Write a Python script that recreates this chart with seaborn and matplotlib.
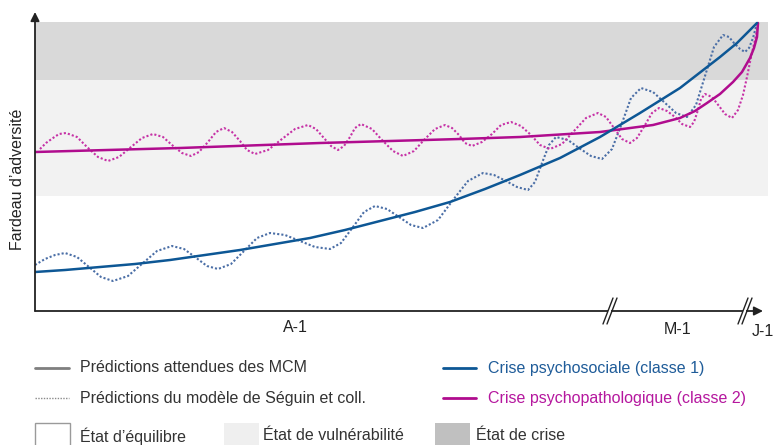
import matplotlib
matplotlib.use("Agg")
import matplotlib.pyplot as plt
from matplotlib.lines import Line2D
from matplotlib.patches import Rectangle
import seaborn as sns

# Time runs from the start of the year before the crisis (0) to the crisis day (722);
# adversity burden is in arbitrary units.
equilibrium_max = 115
vulnerability_max = 231
crisis_max = 289

# Expected trajectories from the mixture models (MCM)
t_psychosocial = [0, 30, 65, 100, 135, 170, 205, 240, 275, 310, 345, 380, 415, 450, 485,
                  525, 565, 605, 645, 685, 702, 722]
b_psychosocial = [39, 41, 44, 47, 51, 56, 61, 67, 73, 81, 90, 99, 109, 122, 136,
                  153, 174, 198, 223, 254, 268, 288]

t_psychopatho = [0, 145, 285, 425, 485, 565, 618, 645, 660, 672, 685, 698, 707, 715, 719,
                 722, 723]
b_psychopatho = [159, 163, 168, 172, 174, 179, 186, 193, 200, 208, 217, 229, 239, 253, 263,
                 274, 288]

# Fluctuating trajectories predicted by the Séguin et al. model
t_seguin_psychosocial = [0, 10, 20, 30, 42, 54, 66, 78, 93, 108, 122, 137, 149, 160, 172, 183,
                         196, 209, 222, 235, 250, 265, 280, 295, 306, 318, 329, 340, 352, 364,
                         376, 388, 403, 418, 433, 448, 459, 471, 482, 493, 500, 507, 514, 521,
                         533, 544, 556, 567, 577, 587, 596, 606, 618, 629, 641, 652, 661, 670,
                         679, 688, 694, 699, 705, 710, 714, 718, 722]
b_seguin_psychosocial = [46, 52, 56, 58, 54, 44, 34, 30, 35, 48, 60, 65, 62, 54, 45, 42,
                         47, 60, 73, 78, 76, 70, 64, 62, 68, 84, 99, 105, 102, 94,
                         86, 83, 91, 111, 130, 138, 136, 130, 124, 121, 129, 148, 166, 174,
                         171, 163, 155, 152, 162, 188, 213, 223, 219, 209, 198, 194, 206, 235,
                         264, 276, 274, 268, 262, 259, 263, 273, 288]

t_seguin_psychopatho = [5, 11, 18, 24, 31, 42, 52, 63, 73, 84, 96, 107, 118, 128, 137, 147, 156,
                        164, 173, 181, 189, 197, 205, 212, 220, 233, 247, 260, 273, 281, 288, 296,
                        303, 309, 315, 320, 326, 337, 347, 358, 368, 379, 389, 400, 410, 417, 424,
                        430, 437, 447, 457, 466, 476, 486, 496, 505, 515, 527, 539, 551, 563, 571,
                        579, 587, 595, 602, 610, 617, 624, 632, 640, 647, 655, 659, 663, 666, 670,
                        677, 684, 690, 697, 703, 708, 712, 716, 720, 722, 723]
b_seguin_psychopatho = [162, 168, 173, 177, 178, 174, 164, 154, 150, 154, 164, 173, 177, 174, 166, 158, 155,
                        159, 169, 179, 183, 179, 170, 161, 157, 161, 172, 182, 186, 182, 174, 165,
                        161, 165, 174, 183, 187, 182, 171, 160, 155, 160, 171, 182, 186, 183, 176,
                        168, 165, 169, 177, 186, 189, 185, 176, 166, 162, 167, 180, 193, 198, 194,
                        183, 172, 168, 173, 186, 198, 203, 200, 194, 187, 184, 189, 201, 212, 217,
                        214, 205, 197, 193, 201, 216, 234, 254, 271, 281, 288]

time_marks = ["A-1", "M-1", "J-1"]
time_mark_pos = [260, 643, 728]
time_breaks = [572, 707]

BLUE = "#0d5795"
MAGENTA = "#b00c8e"
BLUE_DOT = "#4a6ea6"
MAGENTA_DOT = "#c632a6"
BLUE_TXT = "#1f5c99"
MAGENTA_TXT = "#b5179e"
GREY_TXT = "#333333"

sns.set_theme(style="white")
plt.rcParams["font.family"] = ["Liberation Sans", "DejaVu Sans"]
FS = 11.5

W, H = 774, 445
fig = plt.figure(figsize=(W / 100, H / 100), dpi=100)
ax = fig.add_axes([35 / W, 134 / H, 733 / W, 300 / H])
ax.set_xlim(0, 733)
ax.set_ylim(0, 300)
for s in ax.spines.values():
    s.set_visible(False)
ax.set_xticks([])
ax.set_yticks([])
ax.set_facecolor("white")

# adversity zones
ax.axhspan(equilibrium_max, vulnerability_max, color="#f2f2f2", lw=0, zorder=0)
ax.axhspan(vulnerability_max, crisis_max, color="#d9d9d9", lw=0, zorder=0)

dot = (0, (1, 1))
sns.lineplot(x=t_seguin_psychosocial, y=b_seguin_psychosocial, ax=ax, color=BLUE_DOT,
             lw=1.5, linestyle=dot, sort=False, estimator=None, legend=False, zorder=2)
sns.lineplot(x=t_seguin_psychopatho, y=b_seguin_psychopatho, ax=ax, color=MAGENTA_DOT,
             lw=1.5, linestyle=dot, sort=False, estimator=None, legend=False, zorder=2)
sns.lineplot(x=t_psychopatho, y=b_psychopatho, ax=ax, color=MAGENTA,
             lw=1.8, sort=False, estimator=None, legend=False, zorder=3)
sns.lineplot(x=t_psychosocial, y=b_psychosocial, ax=ax, color=BLUE,
             lw=1.8, sort=False, estimator=None, legend=False, zorder=3)

# axes drawn as arrows
arrow = dict(arrowstyle="-|>", color="#222222", lw=1.3, mutation_scale=13,
             shrinkA=0, shrinkB=0)
ax.annotate("", xy=(728, 0), xytext=(0, 0), arrowprops=arrow, annotation_clip=False, zorder=5)
ax.annotate("", xy=(0, 299), xytext=(0, 0), arrowprops=arrow, annotation_clip=False, zorder=5)

# scale breaks on the time axis
for tb in time_breaks:
    ax.plot([tb + 1, tb + 4], [0, 0], color="white", lw=3, solid_capstyle="butt",
            clip_on=False, zorder=6)
    for off in (0, 4):
        ax.plot([tb - 4 + off, tb + 6 + off], [-13, 13], color="#222222", lw=1.0,
                clip_on=False, zorder=7)

for lab, pos, yy in zip(time_marks, time_mark_pos, [-17, -19, -21]):
    ax.text(pos, yy, lab, ha="center", va="center", fontsize=FS, color="#222222",
            clip_on=False)

fig.text(18 / W, 1 - 179 / H, "Fardeau d\u2019adversité", rotation=90, ha="center",
         va="center", fontsize=FS, color="#222222")


def fx(px):
    return px / W


def fy(py):
    return 1 - py / H


# legend: trajectory types
fig.add_artist(Line2D([fx(35), fx(69)], [fy(368), fy(368)], color="#7f7f7f", lw=2))
fig.text(fx(80), fy(368), "Prédictions attendues des MCM", fontsize=FS, color=GREY_TXT,
         va="center")
fig.add_artist(Line2D([fx(35), fx(69)], [fy(398), fy(398)], color="#8a8a8a", lw=1,
                      linestyle=(0, (1, 1))))
fig.text(fx(80), fy(398), "Prédictions du modèle de Séguin et coll.", fontsize=FS,
         color=GREY_TXT, va="center")

# legend: crisis classes
fig.add_artist(Line2D([fx(443), fx(476)], [fy(368), fy(368)], color=BLUE, lw=2))
fig.text(fx(488), fy(368), "Crise psychosociale (classe 1)", fontsize=FS, color=BLUE_TXT,
         va="center")
fig.add_artist(Line2D([fx(443), fx(476)], [fy(398), fy(398)], color=MAGENTA, lw=2))
fig.text(fx(488), fy(398), "Crise psychopathologique (classe 2)", fontsize=FS,
         color=MAGENTA_TXT, va="center")

# legend: states
states = [("État d\u2019équilibre", "white", "#9a9a9a", 35, 80),
          ("État de vulnérabilité", "#efefef", "none", 224, 263),
          ("État de crise", "#c0c0c0", "none", 435, 476)]
for lab, fc, ec, x0, xt in states:
    fig.add_artist(Rectangle((fx(x0), fy(447)), 35 / W, 24 / H, transform=fig.transFigure,
                             facecolor=fc, edgecolor=ec, lw=1))
    fig.text(fx(xt), fy(436), lab, fontsize=FS, color=GREY_TXT, va="center")

fig.savefig("out.png", dpi=100)
